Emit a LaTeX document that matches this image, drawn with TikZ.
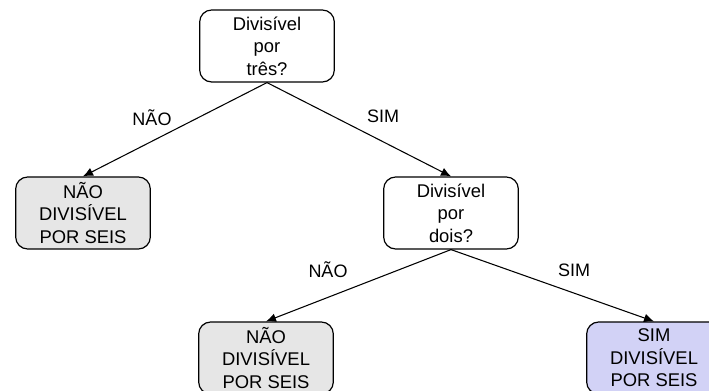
\documentclass[tikz,border=0pt]{standalone}
\usepackage{fontspec}
\setmainfont{Liberation Sans}
\usetikzlibrary{arrows.meta}
\definecolor{boxgray}{HTML}{E6E6E6}
\definecolor{boxlav}{HTML}{D2D2F6}
\begin{document}
\begin{tikzpicture}[x=0.75pt,y=-0.75pt,
  decbox/.style={draw=black, line width=0.9pt, rounded corners=9pt, fill=white,
    minimum width=101pt, minimum height=54pt, align=center, inner sep=0pt,
    font=\fontsize{13.8}{16.8}\selectfont},
  grayend/.style={decbox, fill=boxgray},
  lavend/.style={decbox, fill=boxlav},
  conn/.style={-{Latex[length=7.5pt,width=6.5pt]}, line width=0.8pt},
  lbl/.style={font=\fontsize{13.5}{15}\selectfont}]
\useasboundingbox (0,0) rectangle (709,391);
\node[decbox] (tres) at (267,46) {Divisível\\por\\três?};
\node[grayend] (nao1) at (83,213) {NÃO\\DIVISÍVEL\\POR SEIS};
\node[decbox] (dois) at (451,213) {Divisível\\por\\dois?};
\node[grayend] (nao2) at (266,358) {NÃO\\DIVISÍVEL\\POR SEIS};
\node[lavend] (sim2) at (654,358) {SIM\\DIVISÍVEL\\POR SEIS};
\draw[conn] (tres.south) -- (nao1.north);
\draw[conn] (tres.south) -- (dois.north);
\draw[conn] (dois.south) -- (nao2.north);
\draw[conn] (dois.south) -- (sim2.north);
\node[lbl] (l1) at (152,118) {NÃO};
\node[lbl] (l2) at (383,116) {SIM};
\node[lbl] (l3) at (328,270) {NÃO};
\node[lbl] (l4) at (574,270) {SIM};
\end{tikzpicture}
\end{document}
